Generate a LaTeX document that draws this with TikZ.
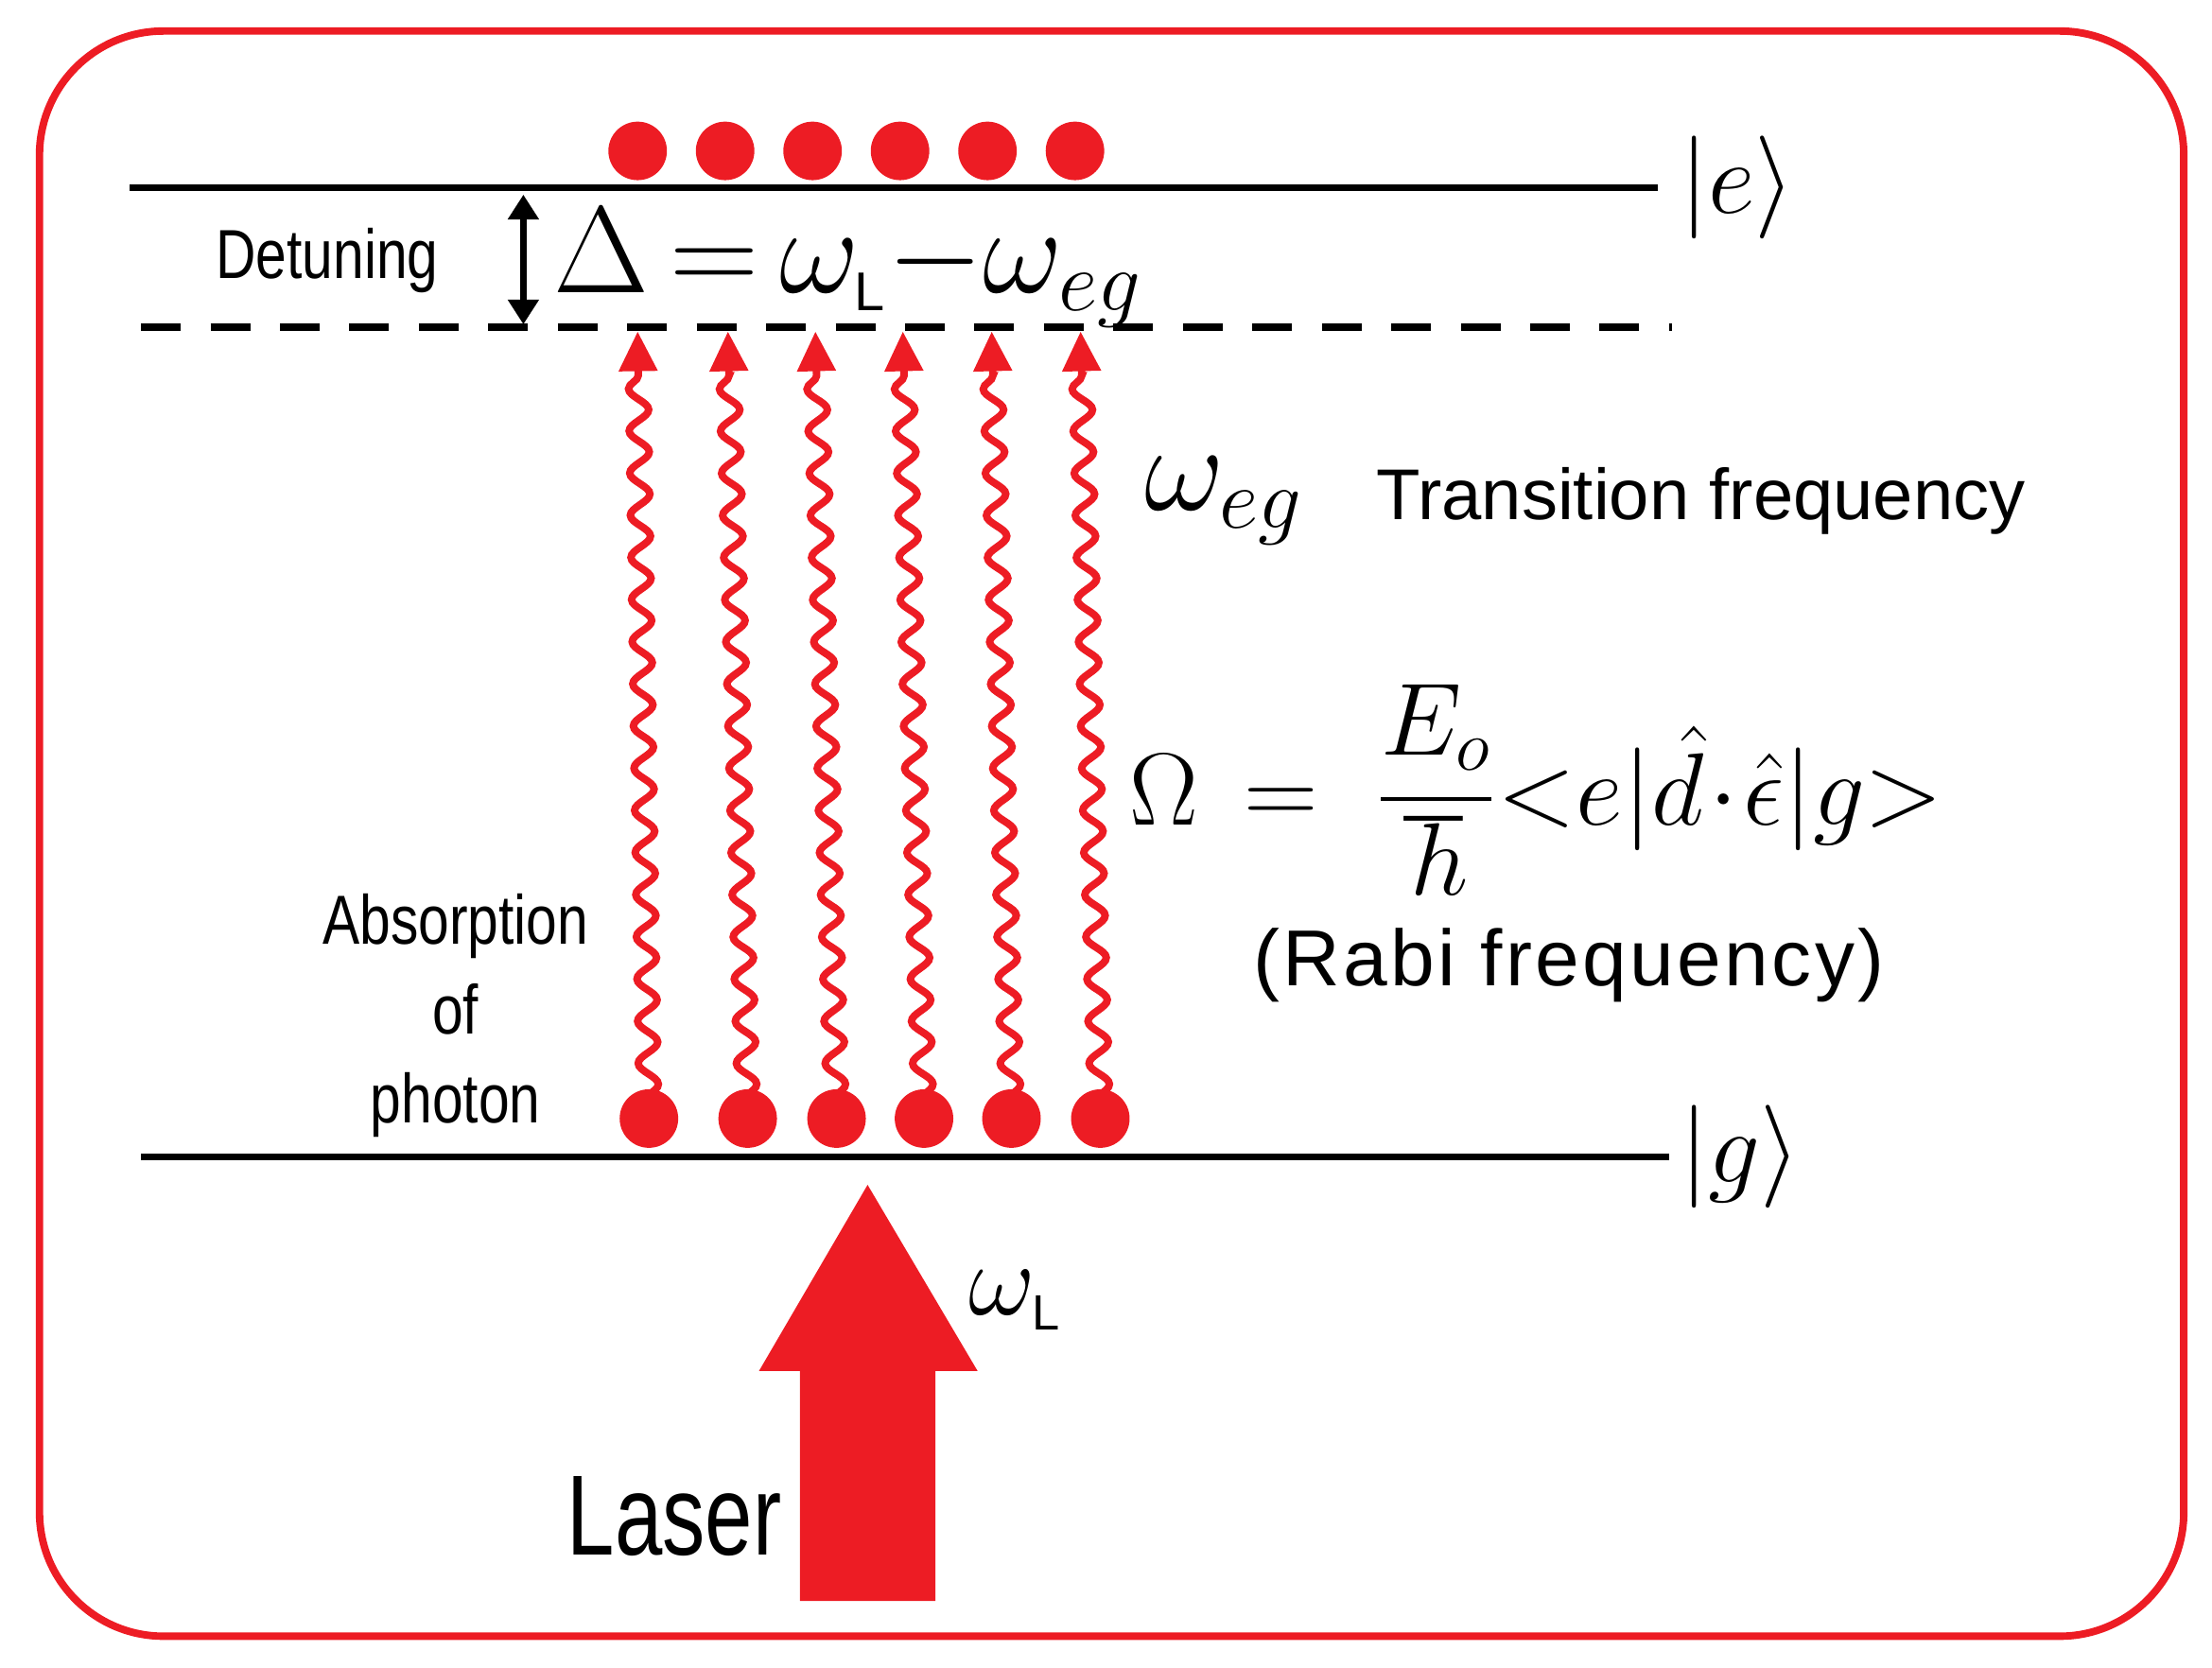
\documentclass[tikz,border=0pt]{standalone}
\usepackage{fontspec}
\usepackage{amsmath}
\setmainfont{Liberation Sans}
\newfontfamily\narrowsans[FakeStretch=0.8]{Liberation Sans}
\usetikzlibrary{decorations.pathmorphing,arrows.meta}
\definecolor{lred}{RGB}{237,28,36}
\begin{document}
\begin{tikzpicture}[x=0.01cm,y=-0.01cm,
  lvl/.style={line width=1.4pt},
  dot/.style={circle,fill=lred,inner sep=0pt,minimum size=11.8pt},
  wave/.style={lred,line width=1.5pt,decorate,decoration={snake,amplitude=2pt,segment length=8.5pt,post length=8pt},-{Triangle[width=7.5pt,length=8pt]}},
  lab/.style={inner sep=0pt}]
\useasboundingbox (0,0) rectangle (1568,1182);
\draw[lred,line width=1.5pt,rounded corners=25pt] (28,22) rectangle (1548,1160);
% levels
\coordinate (e1) at (92,133); \coordinate (e2) at (1175,133);
\draw[lvl] (e1) -- (e2);
\node[lab,font=\fontsize{22}{24}\selectfont,anchor=west] (ke) at (1190,133) {$|e\rangle$};
\coordinate (d1) at (100,232); \coordinate (d2) at (1185,232);
\draw[lvl,dash pattern=on 8pt off 6pt] (d1) -- (d2);
\coordinate (g1) at (100,820); \coordinate (g2) at (1183,820);
\draw[lvl] (g1) -- (g2);
\node[lab,font=\fontsize{22}{24}\selectfont,anchor=west] (kg) at (1190,820) {$|g\rangle$};
% top dots
\foreach \x [count=\i] in {452,514,576,638,700,762}{\node[dot] (t\i) at (\x,107) {};}
% bottom dots and waves
\foreach \x/\y [count=\i] in {460/452,530/516,593/578,655/640,717/703,780/766}{
  \node[dot] (b\i) at (\x,793) {};
  \coordinate (w\i) at (\y,235);
  \draw[wave] (b\i.center) -- (w\i);
}
% detuning
\coordinate (da) at (371,138); \coordinate (db) at (371,230);
\draw[line width=1.3pt,{Triangle[width=6pt,length=5pt]}-{Triangle[width=6pt,length=5pt]}] (da) -- (db);
\node[lab,font=\narrowsans\fontsize{14}{16}\selectfont] (det) at (232,185) {Detuning};
\node[lab,font=\fontsize{24}{26}\selectfont,anchor=west] (delta) at (392,190) {$\Delta\,{=}\,\omega_{\text{\fontsize{11}{11}\selectfont L}}{-}\omega_{eg}$};
% transition
\node[lab,font=\fontsize{27}{30}\selectfont] (weg) at (868,355) {$\omega_{eg}$};
\node[lab,font=\fontsize{14.5}{17}\selectfont,anchor=west] (tf) at (975,355) {Transition frequency};
\node[lab,font=\fontsize{21}{24}\selectfont,anchor=west] (om) at (800,560) {$\Omega\,=\;\dfrac{E_o}{\hbar}{<}e|\hat d\!\cdot\!\hat\epsilon|g{>}$};
\node[lab,font=\fontsize{16}{18}\selectfont] (rabi) at (1112,684) {\addfontfeature{LetterSpace=4}(Rabi frequency)};
\node[lab,font=\narrowsans\fontsize{14}{18}\selectfont,align=center] (abs) at (323,720) {Absorption\\of\\photon};
% laser
\coordinate (tip) at (615,840);
\fill[lred] (tip) -- (693,972) -- (663,972) -- (663,1135) -- (567,1135) -- (567,972) -- (538,972) -- cycle;
\node[lab,font=\fontsize{20}{22}\selectfont] (wl) at (720,922) {$\omega_{\text{\fontsize{10}{10}\selectfont L}}$};
\node[lab,font=\fontsize{23}{26}\selectfont] (laser) at (478,1075) {\addfontfeature{FakeStretch=0.75}Laser};
\end{tikzpicture}
\end{document}
